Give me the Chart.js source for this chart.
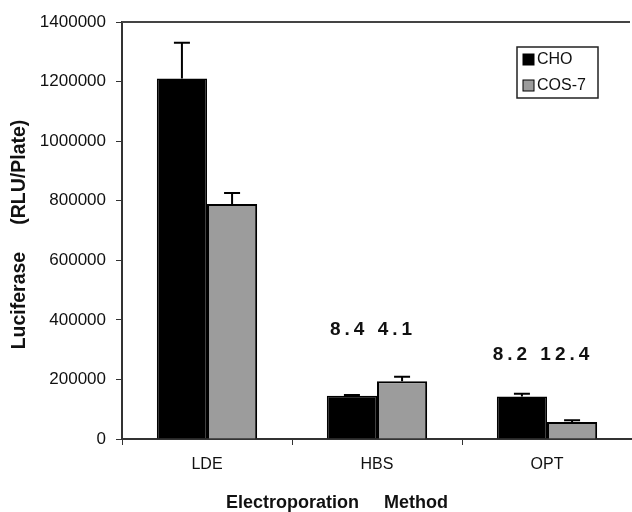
<!DOCTYPE html>
<html>
<head>
<meta charset="utf-8">
<script src="https://cdn.jsdelivr.net/npm/chart.js@4"></script>
<style>
  html, body { margin: 0; padding: 0; background: #fff; }
</style>
</head>
<body>
<canvas id="chart" width="632" height="512"></canvas>
<script>
// --- data ---
const methods = ['LDE', 'HBS', 'OPT'];
const choValues = [1210000, 145000, 143000];
const choErrors = [120000, 3000, 9000];
const cosValues = [789000, 194000, 57000];
const cosErrors = [37000, 15000, 6000];
const foldLabels = ['', '8.4 4.1', '8.2 12.4'];
const foldLevels = [null, 366000, 282000];

const FONT = '"Liberation Sans", Arial, sans-serif';

// error bars (upper only)
const errorBars = {
    id: 'errorBars',
    beforeDatasetsDraw(chart) {
        const ctx = chart.ctx;
        const y = chart.scales.y;
        chart.data.datasets.forEach((ds, i) => {
            chart.getDatasetMeta(i).data.forEach((bar, j) => {
                const top = y.getPixelForValue(ds.data[j] + ds.errors[j]);
                ctx.save();
                ctx.strokeStyle = '#000';
                ctx.lineWidth = 2;
                ctx.beginPath();
                ctx.moveTo(bar.x, bar.y);
                ctx.lineTo(bar.x, top);
                ctx.moveTo(bar.x - 8, top);
                ctx.lineTo(bar.x + 8, top);
                ctx.stroke();
                ctx.restore();
            });
        });
    }
};

// fold numbers, titles, top frame line and boxed legend
const extras = {
    id: 'extras',
    afterDraw(chart) {
        const ctx = chart.ctx;
        const a = chart.chartArea;
        const x = chart.scales.x, y = chart.scales.y;
        ctx.save();

        // top frame
        ctx.strokeStyle = '#444';
        ctx.lineWidth = 2;
        ctx.beginPath();
        ctx.moveTo(a.left, a.top);
        ctx.lineTo(a.right - 2, a.top);
        ctx.stroke();

        // fold numbers
        ctx.fillStyle = '#111';
        ctx.font = 'bold 19px ' + FONT;
        ctx.letterSpacing = '4px';
        ctx.textAlign = 'center';
        ctx.textBaseline = 'middle';
        foldLabels.forEach((t, i) => {
            if (!t) return;
            ctx.fillText(t, x.getPixelForValue(i) - 4, y.getPixelForValue(foldLevels[i]));
        });
        ctx.letterSpacing = '0px';

        // axis titles
        ctx.font = 'bold 18px ' + FONT;
        ctx.fillText('Electroporation     Method', a.left + 215, 503);
        ctx.save();
        ctx.translate(20, (a.top + a.bottom) / 2 + 4);
        ctx.rotate(-Math.PI / 2);
        ctx.font = 'bold 19.5px ' + FONT;
        ctx.fillText('Luciferase     (RLU/Plate)', 0, 0);
        ctx.restore();

        // legend box
        const bx = a.left + 395, by = a.top + 25, bw = 81, bh = 51;
        ctx.strokeStyle = '#222';
        ctx.lineWidth = 1.5;
        ctx.strokeRect(bx, by, bw, bh);
        ctx.font = '16px ' + FONT;
        ctx.textAlign = 'left';
        chart.data.datasets.forEach((ds, i) => {
            const cy = by + 12 + i * 26;
            ctx.fillStyle = ds.backgroundColor;
            ctx.fillRect(bx + 6, cy - 5, 11, 11);
            ctx.strokeStyle = '#000';
            ctx.lineWidth = 1;
            ctx.strokeRect(bx + 6, cy - 5, 11, 11);
            ctx.fillStyle = '#111';
            ctx.fillText(ds.label, bx + 20, cy + 1);
        });
        ctx.restore();
    }
};

new Chart(document.getElementById('chart'), {
    type: 'bar',
    data: {
        labels: methods,
        datasets: [{
            label: 'CHO',
            data: choValues,
            errors: choErrors,
            backgroundColor: '#000',
            borderColor: '#000',
            borderWidth: 1.5
        }, {
            label: 'COS-7',
            data: cosValues,
            errors: cosErrors,
            backgroundColor: '#9c9c9c',
            borderColor: '#000',
            borderWidth: 2
        }]
    },
    options: {
        responsive: false,
        animation: false,
        devicePixelRatio: 1,
        layout: { padding: { top: 22, right: 0, left: 0, bottom: 0 } },
        plugins: {
            legend: { display: false },
            tooltip: { enabled: false }
        },
        datasets: {
            bar: { categoryPercentage: 0.59, barPercentage: 1.0 }
        },
        scales: {
            x: {
                afterFit: s => { s.height = 73; },
                grid: { drawOnChartArea: false, tickLength: 6, color: '#333' },
                border: { color: '#333', width: 2 },
                ticks: { color: '#111', font: { family: FONT, size: 16 }, padding: 10 }
            },
            y: {
                min: 0,
                max: 1400000,
                afterFit: s => { s.width = 122; },
                grid: { drawOnChartArea: false, tickLength: 6, color: '#333' },
                border: { color: '#333', width: 2 },
                ticks: {
                    stepSize: 200000,
                    color: '#111',
                    font: { family: FONT, size: 17 },
                    padding: 10,
                    callback: v => String(v)
                }
            }
        }
    },
    plugins: [errorBars, extras]
});
</script>
</body>
</html>
